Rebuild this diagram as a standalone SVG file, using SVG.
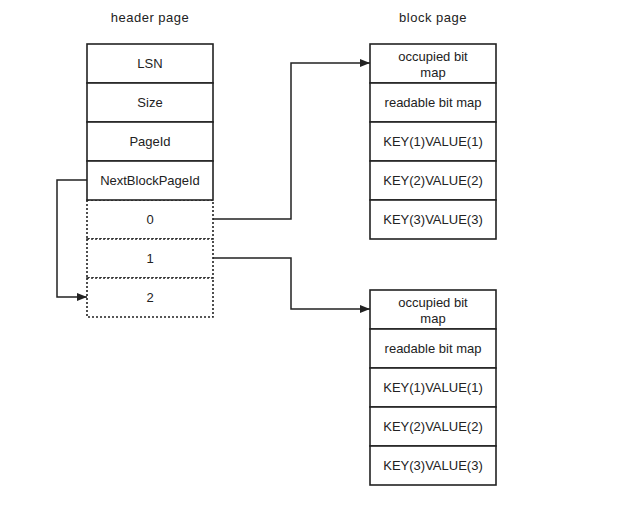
<svg xmlns="http://www.w3.org/2000/svg" width="636" height="519" viewBox="0 0 636 519">
<style>
text{font-family:"Liberation Sans",Arial,sans-serif;font-size:13px;fill:#222;text-anchor:middle;dominant-baseline:central}
.b{fill:#fff;stroke:#222;stroke-width:1.6}
.d{fill:#fff;stroke:#222;stroke-width:1.6;stroke-dasharray:2 2}
.c{fill:none;stroke:#222;stroke-width:1.5}
</style>
<defs>
<marker id="ah" markerWidth="10" markerHeight="8" refX="10" refY="4" orient="auto" markerUnits="userSpaceOnUse">
<path d="M0,0 L10,4 L0,8 Z" fill="#222"/>
</marker>
</defs>
<rect width="636" height="519" fill="#fff"/>
<text x="150" y="17" letter-spacing="0.5">header page</text>
<text x="433" y="17" letter-spacing="0.5">block page</text>
<g id="header">
<rect class="d" x="87" y="200" width="126" height="39"/>
<rect class="d" x="87" y="239" width="126" height="39"/>
<rect class="d" x="87" y="278" width="126" height="39"/>
<rect class="b" x="87" y="44" width="126" height="39"/>
<rect class="b" x="87" y="83" width="126" height="39"/>
<rect class="b" x="87" y="122" width="126" height="39"/>
<rect class="b" x="87" y="161" width="126" height="39"/>
<text x="150" y="63.5">LSN</text>
<text x="150" y="102.5">Size</text>
<text x="150" y="141.5">PageId</text>
<text x="150" y="180.5">NextBlockPageId</text>
<text x="150" y="219.5">0</text>
<text x="150" y="258.5">1</text>
<text x="150" y="297.5">2</text>
</g>
<g id="block1">
<rect class="b" x="370" y="44" width="126" height="39"/>
<rect class="b" x="370" y="83" width="126" height="39"/>
<rect class="b" x="370" y="122" width="126" height="39"/>
<rect class="b" x="370" y="161" width="126" height="39"/>
<rect class="b" x="370" y="200" width="126" height="39"/>
<text x="433" y="56">occupied bit</text>
<text x="433" y="72">map</text>
<text x="433" y="102.5">readable bit map</text>
<text x="433" y="141.5">KEY(1)VALUE(1)</text>
<text x="433" y="180.5">KEY(2)VALUE(2)</text>
<text x="433" y="219.5">KEY(3)VALUE(3)</text>
</g>
<g id="block2">
<rect class="b" x="370" y="290" width="126" height="39"/>
<rect class="b" x="370" y="329" width="126" height="39"/>
<rect class="b" x="370" y="368" width="126" height="39"/>
<rect class="b" x="370" y="407" width="126" height="39"/>
<rect class="b" x="370" y="446" width="126" height="39"/>
<text x="433" y="302">occupied bit</text>
<text x="433" y="318">map</text>
<text x="433" y="348.5">readable bit map</text>
<text x="433" y="387.5">KEY(1)VALUE(1)</text>
<text x="433" y="426.5">KEY(2)VALUE(2)</text>
<text x="433" y="465.5">KEY(3)VALUE(3)</text>
</g>
<g id="connectors">
<path class="c" d="M213,219 H291 V63 H370" marker-end="url(#ah)"/>
<path class="c" d="M213,258 H291 V309 H370" marker-end="url(#ah)"/>
<path class="c" d="M87,180 H57 V297 H87" marker-end="url(#ah)"/>
</g>
</svg>
